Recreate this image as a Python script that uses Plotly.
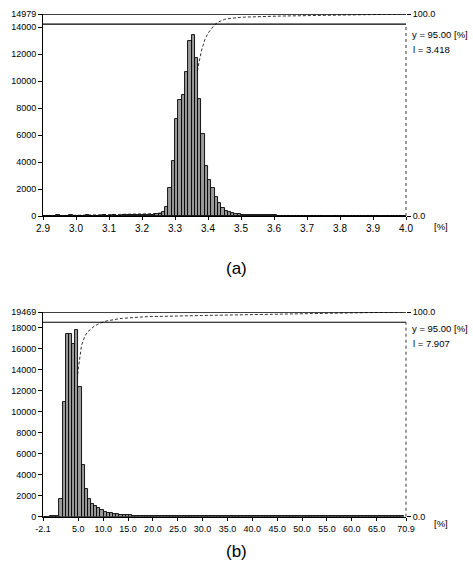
import numpy as np
import plotly.graph_objects as go

# ---------------- data (a) ----------------
a_bin_start = 2.90
a_bin_width = 0.01
a_counts = [
    30, 30, 30, 30, 40, 30, 30, 30, 40, 30,      # 2.90-3.00
    30, 30, 30, 40, 30, 30, 30, 30, 40, 30,      # 3.00-3.10
    30, 40, 30, 30, 40, 40, 40, 50, 50, 60,      # 3.10-3.20
    60, 70, 80, 100, 120, 180, 260, 660, 2050, 4100,   # 3.20-3.30
    7200, 8600, 9000, 10700, 13000, 13400, 11700, 8700, 6100, 3700,  # 3.30-3.40
    2640, 2050, 1390, 950, 600, 400, 280, 200, 150, 120,  # 3.40-3.50
    100, 90, 80, 70, 60, 50, 50, 40, 40, 40,    # 3.50-3.60
    40, 30, 30, 30, 30, 30, 30, 30, 30, 30,     # 3.60-3.70
    30, 30, 30, 30, 30, 30, 30, 30, 30, 30,     # 3.70-3.80
    30, 30, 30, 30, 30, 30, 30, 30, 30, 30,     # 3.80-3.90
    30, 30, 30, 30, 30, 30, 30, 30, 30, 30,     # 3.90-4.00
]
a_xticks = [2.9, 3.0, 3.1, 3.2, 3.3, 3.4, 3.5, 3.6, 3.7, 3.8, 3.9, 4.0]
a_xticktext = ["2.9", "3.0", "3.1", "3.2", "3.3", "3.4", "3.5", "3.6", "3.7", "3.8", "3.9", "4.0"]
a_ymax = 14979
a_yticks = [0, 2000, 4000, 6000, 8000, 10000, 12000, 14000, 14979]
a_yticktext = ["0", "2000", "4000", "6000", "8000", "10000", "12000", "14000", "14979"]
a_l_text = "l = 3.418"

# ---------------- data (b) ----------------
b_bin_start = -1.97
b_bin_width = 0.635
b_counts = [
    10, 10, 20, 20, 30, 1700, 10900, 17350, 17350, 16460,
    17800, 12340, 4950, 2650, 1700, 1220, 1020, 800, 650, 480,
    380, 330, 280, 240, 200, 170, 150, 130, 110, 100,
    90, 80, 70, 60, 60, 50, 50, 40, 40, 40,
    30, 30, 30, 30, 30, 30, 30, 30, 30, 30,
    30, 30, 30, 30, 30, 30, 30, 30, 30, 30,
    30, 30, 30, 30, 30, 30, 30, 30, 30, 30,
    30, 30, 30, 30, 30, 30, 30, 30, 30, 30,
    30, 30, 30, 30, 30, 30, 30, 30, 30, 30,
    30, 30, 30, 30, 30, 30, 30, 30, 30, 30,
    30, 30, 30, 30, 30, 30, 30, 30, 30, 30,
    30, 30, 30, 30,
]
b_xticks = [-2.1, 5, 10, 15, 20, 25, 30, 35, 40, 45, 50, 55, 60, 65, 70.9]
b_xticktext = ["-2.1", "5.0", "10.0", "15.0", "20.0", "25.0", "30.0", "35.0",
               "40.0", "45.0", "50.0", "55.0", "60.0", "65.0", "70.9"]
b_ymax = 19469
b_yticks = [0, 2000, 4000, 6000, 8000, 10000, 12000, 14000, 16000, 18000, 19469]
b_yticktext = ["0", "2000", "4000", "6000", "8000", "10000", "12000", "14000",
               "16000", "18000", "19469"]
b_l_text = "l = 7.907"

cum_ticks = [0, 100]
cum_ticktext = ["0.0", "100.0"]
level = 95.0

W, H = 473, 578
FONT = "Liberation Sans"


def px(x):
    return x / W


def py(y):
    return 1 - y / H


def hist_parts(start, width, counts):
    counts = np.array(counts, dtype=float)
    centers = start + width * (np.arange(len(counts)) + 0.5)
    edges = start + width * np.arange(len(counts) + 1)
    cum = np.concatenate([[0.0], np.cumsum(counts)]) / counts.sum() * 100
    return centers, counts, edges, cum


fig = go.Figure()

for (start, width, counts, xa, ycum, ycnt) in [
    (a_bin_start, a_bin_width, a_counts, "x", "y", "y2"),
    (b_bin_start, b_bin_width, b_counts, "x2", "y3", "y4"),
]:
    centers, cnts, edges, cum = hist_parts(start, width, counts)
    fig.add_trace(go.Scatter(
        x=edges, y=cum, xaxis=xa, yaxis=ycum, mode="lines",
        line=dict(color="#333333", width=1, dash="3px,2px"),
        hoverinfo="skip", showlegend=False))
    fig.add_trace(go.Bar(
        x=centers, y=cnts, width=width, xaxis=xa, yaxis=ycnt,
        marker=dict(color="#9a9a9a", line=dict(color="black", width=0.9)),
        showlegend=False))

tick_font = dict(family=FONT, size=9, color="black")

common_x = dict(showline=True, linecolor="black", linewidth=1, ticks="outside",
                ticklen=3, tickcolor="black", showgrid=False, zeroline=False,
                tickmode="array", automargin=False)
common_y = dict(ticks="outside", ticklen=4, tickcolor="black", showgrid=False,
                zeroline=False, tickmode="array", tickfont=tick_font, automargin=False)

a_dom_x = [px(43), px(406)]
a_dom_y = [py(216), py(14)]
b_dom_y = [py(516.7), py(312)]

fig.update_layout(
    width=W, height=H,
    margin=dict(l=0, r=0, t=0, b=0, autoexpand=False),
    paper_bgcolor="white", plot_bgcolor="rgba(0,0,0,0)",
    bargap=0,
    font=dict(family=FONT, color="black"),
    xaxis=dict(domain=a_dom_x, anchor="y", range=[2.9, 4.0],
               tickvals=a_xticks, ticktext=a_xticktext,
               tickfont=dict(family=FONT, size=10, color="black"), **common_x),
    yaxis=dict(domain=a_dom_y, anchor="x", side="right", range=[0, 100],
               tickvals=cum_ticks, ticktext=cum_ticktext, showline=False, **common_y),
    yaxis2=dict(overlaying="y", anchor="x", side="left", range=[0, a_ymax],
                tickvals=a_yticks, ticktext=a_yticktext, showline=True,
                linecolor="black", linewidth=1, **common_y),
    xaxis2=dict(domain=a_dom_x, anchor="y3", range=[-2.1, 70.9],
                tickvals=b_xticks, ticktext=b_xticktext,
                tickfont=dict(family=FONT, size=9, color="black"), **common_x),
    yaxis3=dict(domain=b_dom_y, anchor="x2", side="right", range=[0, 100],
                tickvals=cum_ticks, ticktext=cum_ticktext, showline=False, **common_y),
    yaxis4=dict(overlaying="y3", anchor="x2", side="left", range=[0, b_ymax],
                tickvals=b_yticks, ticktext=b_yticktext, showline=True,
                linecolor="black", linewidth=1, **common_y),
)

shapes = []
for xa, ycum in [("x", "y"), ("x2", "y3")]:
    shapes.append(dict(type="line", xref=f"{xa} domain", yref=ycum, x0=0, x1=1,
                       y0=100, y1=100, line=dict(color="black", width=1.5)))
    shapes.append(dict(type="line", xref=f"{xa} domain", yref=ycum, x0=0, x1=1,
                       y0=level, y1=level, line=dict(color="black", width=1.2)))
    shapes.append(dict(type="line", xref=f"{xa} domain", yref=ycum, x0=1, x1=1,
                       y0=0, y1=level, line=dict(color="#333333", width=1, dash="dot")))
fig.update_layout(shapes=shapes)

ann_font = dict(family=FONT, size=9.5, color="black")
annotations = [
    dict(x=px(410), y=py(34), text="y = 95.00 [%]", xanchor="left", yanchor="middle"),
    dict(x=px(411), y=py(50), text=a_l_text, xanchor="left", yanchor="middle"),
    dict(x=px(432), y=py(226), text="[%]", xanchor="left", yanchor="middle"),
    dict(x=px(410), y=py(329), text="y = 95.00 [%]", xanchor="left", yanchor="middle"),
    dict(x=px(411), y=py(343), text=b_l_text, xanchor="left", yanchor="middle"),
    dict(x=px(432), y=py(523), text="[%]", xanchor="left", yanchor="middle"),
]
for a in annotations:
    a.update(xref="paper", yref="paper", showarrow=False, font=ann_font)
annotations += [
    dict(x=px(236), y=py(268), text="(a)", xref="paper", yref="paper", showarrow=False,
         font=dict(family=FONT, size=17, color="black"), xanchor="center", yanchor="middle"),
    dict(x=px(236), y=py(551), text="(b)", xref="paper", yref="paper", showarrow=False,
         font=dict(family=FONT, size=17, color="black"), xanchor="center", yanchor="middle"),
]
fig.update_layout(annotations=annotations)

fig.write_html("out.html",
               config={"displayModeBar": False},
               post_script="document.body.style.margin='0';document.body.style.padding='0';")
